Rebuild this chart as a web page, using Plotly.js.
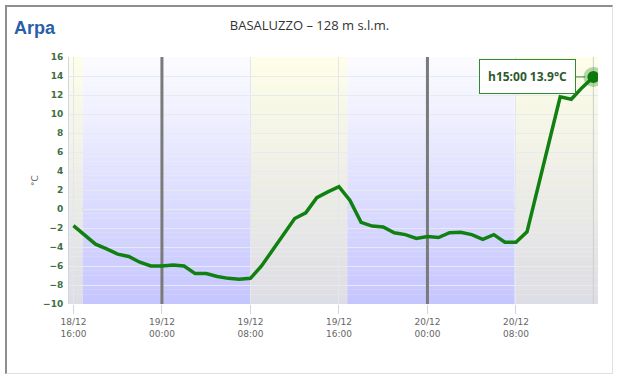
<!DOCTYPE html>
<html>
<head>
<meta charset="utf-8">
<script src="https://cdn.plot.ly/plotly-3.0.1.min.js"></script>
<style>
  html, body { margin: 0; padding: 0; background: #fff; }
  #wrap { position: relative; width: 619px; height: 382px; }
  #chart { position: absolute; left: 0; top: 0; width: 619px; height: 382px; }
  #frame { position: absolute; left: 5px; top: 5px; width: 605px; height: 366px;
           border-top: 2px solid #8e8e8e; border-left: 2px solid #8e8e8e;
           border-right: 1px solid #e0e0e0; border-bottom: 1px solid #e0e0e0;
           pointer-events: none; }
</style>
</head>
<body>
<div id="wrap"><div id="chart"></div><div id="frame"></div></div>
<script>
// ---- data ----
const stationTitle = 'BASALUZZO – 128 m s.l.m.';
const firstReading = '2024-12-18 16:00';   // hourly readings start
const temps = [
  -1.75, -2.7, -3.7, -4.2, -4.75, -5.0, -5.6, -6.0, -6.0, -5.9,
  -6.0, -6.8, -6.8, -7.1, -7.3, -7.4, -7.3, -6.0, -4.3, -2.6,
  -1.0, -0.4, 1.2, 1.8, 2.35, 0.9, -1.4, -1.8, -1.9, -2.5,
  -2.7, -3.1, -2.9, -3.0, -2.5, -2.45, -2.7, -3.2, -2.7, -3.5,
  -3.5, -2.4, 2.3, 7.3, 11.8, 11.55, 12.8, 13.9
];
const tickTimes = ['2024-12-18 16:00','2024-12-19 00:00','2024-12-19 08:00',
                   '2024-12-19 16:00','2024-12-20 00:00','2024-12-20 08:00'];
const tickLabels = ['18/12<br>16:00','19/12<br>00:00','19/12<br>08:00',
                    '19/12<br>16:00','20/12<br>00:00','20/12<br>08:00'];
const midnights = ['2024-12-19 00:00','2024-12-20 00:00'];
const xRange = ['2024-12-18 15:36','2024-12-20 15:25'];
// [start, end, kind]
const bands = [
  ['2024-12-18 15:36','2024-12-18 16:50','day'],
  ['2024-12-18 16:50','2024-12-19 07:58','night'],
  ['2024-12-19 07:58','2024-12-19 16:45','day'],
  ['2024-12-19 16:45','2024-12-20 07:53','night'],
  ['2024-12-20 07:53','2024-12-20 15:25','day']
];
const yTicks = [-10,-8,-6,-4,-2,0,2,4,6,8,10,12,14,16];

// ---- helpers ----
function pad(n){ return (n<10?'0':'') + n; }
function parseT(s){
  const [d,t] = s.split(' ');
  const [Y,M,D] = d.split('-').map(Number);
  const [h,m] = t.split(':').map(Number);
  return Date.UTC(Y,M-1,D,h,m);
}
function fmt(ms){
  const d = new Date(ms);
  return d.getUTCFullYear()+'-'+pad(d.getUTCMonth()+1)+'-'+pad(d.getUTCDate())+' '+pad(d.getUTCHours())+':'+pad(d.getUTCMinutes());
}
const t0 = parseT(firstReading);
const times = temps.map((_, i) => fmt(t0 + i*3600000));
const lastT = times[times.length-1];
const lastV = temps[temps.length-1];

// ---- background gradient bands (strips) ----
const yMin = -10, yMax = 16;
const grad = {
  night: {bot:[197,197,255], top:[252,252,255]},
  day:   {bot:[221,221,229], top:[254,254,232]}
};
const shapes = [];
const N = 52;
bands.forEach(b => {
  const g = grad[b[2]];
  for (let k = 0; k < N; k++) {
    const f = (k + 0.5) / N;
    const c = g.bot.map((v,j) => Math.round(v + (g.top[j]-v)*f));
    shapes.push({type:'rect', layer:'below', xref:'x', yref:'y',
      x0:b[0], x1:b[1], y0: yMin + (yMax-yMin)*k/N, y1: yMin + (yMax-yMin)*(k+1)/N + 0.02,
      fillcolor:'rgb('+c.join(',')+')', line:{width:0}});
  }
});
midnights.forEach(m => shapes.push({type:'line', layer:'between', xref:'x', yref:'y',
  x0:m, x1:m, y0:yMin, y1:yMax, line:{color:'#7a7a7a', width:3}}));
shapes.push({type:'line', layer:'between', xref:'x', yref:'y', x0:lastT, x1:lastT,
  y0:yMin, y1:yMax, line:{color:'#cfcfcf', width:1}});
shapes.push({type:'line', layer:'between', xref:'paper', yref:'y', x0:0, x1:1,
  y0:0, y1:0, line:{color:'#f0a22a', width:3}});

const traces = [
  {x: times, y: temps, type:'scatter', mode:'lines',
   line:{color:'#108010', width:3.5}, hoverinfo:'skip'},
  {x:[lastT], y:[lastV], type:'scatter', mode:'markers',
   marker:{size:20, color:'rgba(16,128,16,0.3)'}, hoverinfo:'skip'},
  {x:[lastT], y:[lastV], type:'scatter', mode:'markers',
   marker:{size:12, color:'#0a7a0a'}, hoverinfo:'skip'}
];

const layout = {
  width: 619, height: 382,
  margin: {l:69, r:21, t:57, b:78},
  paper_bgcolor:'#ffffff', plot_bgcolor:'#ffffff',
  showlegend:false,
  font:{family:'DejaVu Sans, Verdana, sans-serif', color:'#666'},
  title:{text: stationTitle, x:0.5, xref:'container', xanchor:'center', y:25/382 , yref:'container', yanchor:'middle',
         font:{family:'Open Sans, sans-serif', size:13, color:'#333'}},
  xaxis:{type:'date', range:xRange, tickmode:'array', tickvals:tickTimes, ticktext:tickLabels,
         ticks:'outside', ticklen:9, tickcolor:'#ccd6eb', tickwidth:1,
         showgrid:true, gridcolor:'#e2e6f0', gridwidth:1,
         showline:false, zeroline:false,
         tickfont:{size:9, color:'#666'}},
  yaxis:{range:[yMin, yMax], tickmode:'array', tickvals:yTicks,
         showgrid:true, gridcolor:'#e9e9f0', gridwidth:1, zeroline:false,
         showline:true, linecolor:'#ccd6eb', linewidth:1,
         ticks:'', ticklabelstandoff:3,
         tickfont:{size:9, color:'#3f6f3f', weight:'bold'},
         title:{text:'°C', standoff:2, font:{size:9, color:'#666'}}},
  shapes: shapes,
  annotations:[
    {x:lastT, y:lastV, xref:'x', yref:'y', text:'h15:00 13.9°C', showarrow:true,
     ax:-66, ay:0, arrowhead:0, arrowwidth:1, arrowcolor:'#2e8b2e', standoff:8,
     bgcolor:'#ffffff', bordercolor:'#2e8b2e', borderwidth:1, borderpad:8,
     font:{family:'Open Sans, sans-serif', size:12, color:'#2d5a2d', weight:'bold'}},
    {xref:'paper', yref:'paper', x:-0.108, y:(304-28)/247, xanchor:'left', yanchor:'middle',
     text:'<b>Arpa</b>', showarrow:false,
     font:{family:'Liberation Sans Narrow, Arial Narrow, sans-serif', size:18, color:'#2a5ea8'}}
  ]
};
layout.title.y = 1 - 25/382;

Plotly.newPlot('chart', traces, layout, {displayModeBar:false, staticPlot:true});
</script>
</body>
</html>
